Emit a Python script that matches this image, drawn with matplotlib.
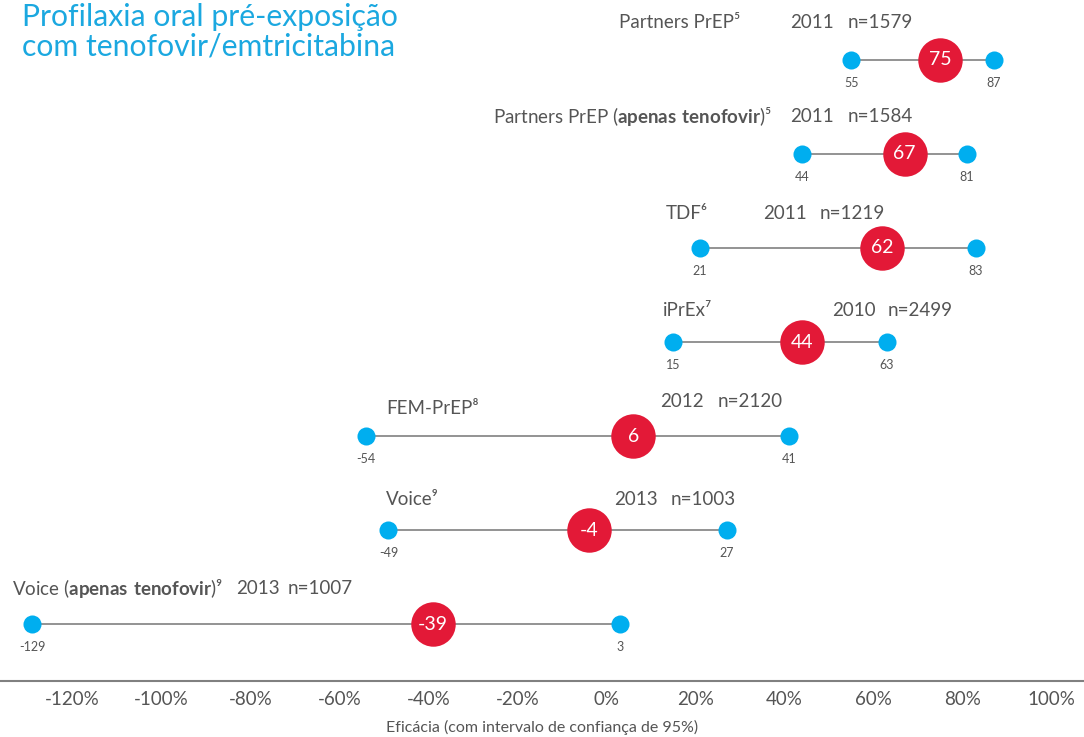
import matplotlib.pyplot as plt

plt.rcParams['font.family'] = ['Lato', 'DejaVu Sans']
plt.rcParams['mathtext.fontset'] = 'custom'
plt.rcParams['mathtext.rm'] = 'Lato'
plt.rcParams['mathtext.bf'] = 'Lato:bold'

# Study data (efficacy % with 95% CI)
studies = ['Partners PrEP⁵',
           r'Partners PrEP ($\mathbf{apenas\ tenofovir}$)⁵',
           'TDF⁶',
           'iPrEx⁷',
           'FEM-PrEP⁸',
           'Voice⁹',
           r'Voice ($\mathbf{apenas\ tenofovir}$)⁹']
years = ['2011', '2011', '2011', '2010', '2012', '2013', '2013']
sizes = ['n=1579', 'n=1584', 'n=1219', 'n=2499', 'n=2120', 'n=1003', 'n=1007']
efficacy = [75, 67, 62, 44, 6, -4, -39]
ci_low = [55, 44, 21, 15, -54, -49, -129]
ci_high = [87, 81, 83, 63, 41, 27, 3]
ticks = [-120, -100, -80, -60, -40, -20, 0, 20, 40, 60, 80, 100]

# label layout (x of name, how name is aligned, x of year, x of n, lift above line)
name_x = [30, 37, 13.3, 12.7, -49.6, -49.6, -133.6]
name_ha = ['right', 'right', 'left', 'left', 'left', 'left', 'left']
year_x = [41.2, 41.2, 35.1, 50.7, 12, 1.7, -83.3]
n_x = [54.2, 54.2, 48, 63.2, 25, 14.5, -71.6]
name_lift = [0.40, 0.40, 0.37, 0.34, 0.29, 0.32, 0.38]
year_lift = [0.40, 0.40, 0.37, 0.34, 0.37, 0.32, 0.38]

red = '#E31937'
blue = '#00AEEF'
grey_txt = '#555555'

fig = plt.figure(figsize=(10.84, 7.37), dpi=100)
ax = fig.add_axes([0, 56 / 737, 1, 681 / 737])
ax.set_xlim(-136.3, 107.3)
ax.set_ylim(6.606, -0.638)

for i in range(len(studies)):
    ax.plot([ci_low[i], ci_high[i]], [i, i], color='#8a8a8a', lw=1.3, zorder=1)
    ax.plot([ci_low[i], ci_high[i]], [i, i], 'o', color=blue, ms=13, mec='none', zorder=2)
    ax.plot(efficacy[i], i, 'o', color=red, ms=32, mec='none', zorder=3)
    ax.text(efficacy[i], i, str(efficacy[i]), color='white', fontsize=14,
            ha='center', va='center', zorder=4)
    for v in (ci_low[i], ci_high[i]):
        ax.text(v, i + 0.24, str(v), color=grey_txt, fontsize=9,
                ha='center', va='center')
    ax.text(name_x[i], i - name_lift[i], studies[i], color=grey_txt, fontsize=13.5,
            ha=name_ha[i], va='center')
    ax.text(year_x[i], i - year_lift[i], years[i], color=grey_txt, fontsize=13.5,
            ha='left', va='center')
    ax.text(n_x[i], i - year_lift[i], sizes[i], color=grey_txt, fontsize=13.5,
            ha='left', va='center')

ax.set_xticks(ticks)
ax.set_xticklabels([f'{t}%' for t in ticks], fontsize=13.5, color=grey_txt)
ax.tick_params(axis='x', length=0, pad=7)
ax.set_yticks([])
for s in ['top', 'left', 'right']:
    ax.spines[s].set_visible(False)
ax.spines['bottom'].set_color('#808080')
ax.spines['bottom'].set_linewidth(1.5)
ax.set_xlabel('Eficácia (com intervalo de confiança de 95%)', fontsize=11.5,
              color=grey_txt, labelpad=9)
ax.patch.set_visible(False)

fig.text(22 / 1084, 1 - 3 / 737, 'Profilaxia oral pré-exposição\ncom tenofovir/emtricitabina',
         color='#1BA8E0', fontsize=21.7, ha='left', va='top', linespacing=1.07)

fig.savefig('out.png', dpi=100)
